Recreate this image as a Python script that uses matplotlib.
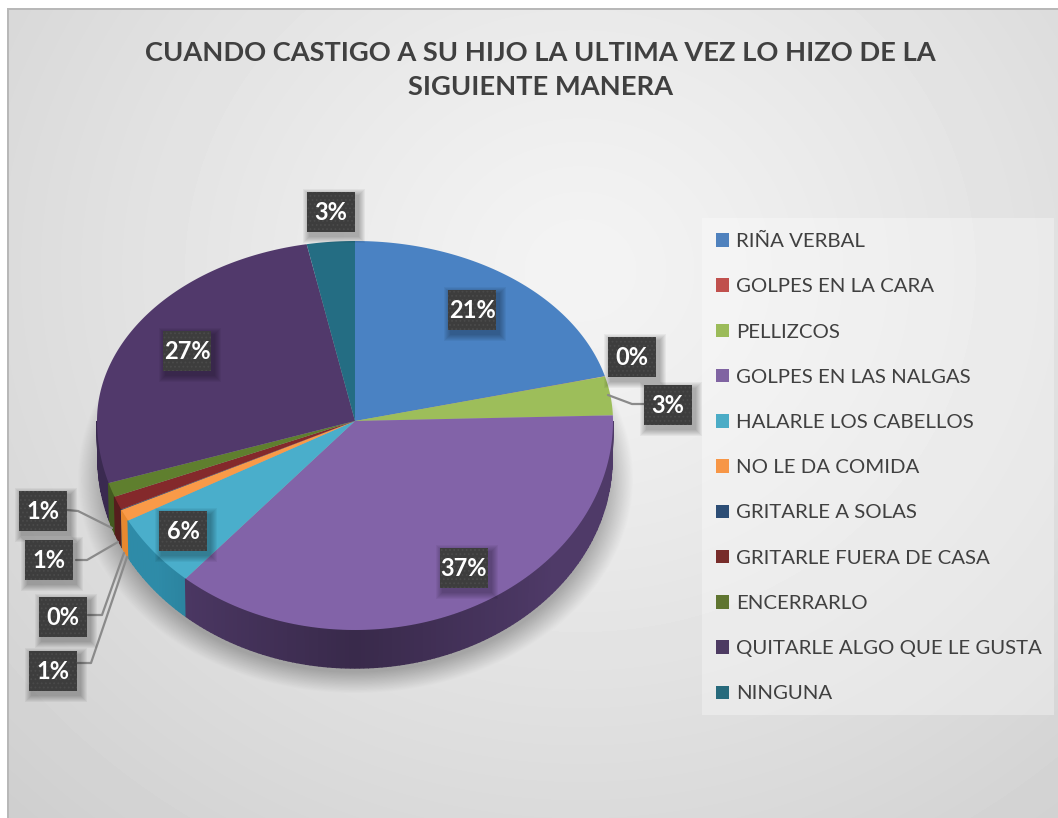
# -*- coding: utf-8 -*-
import numpy as np
import matplotlib
matplotlib.use("Agg")
import matplotlib.pyplot as plt
from matplotlib.patches import Patch, Rectangle

plt.rcParams["font.family"] = ["Lato", "DejaVu Sans"]
plt.rcParams["hatch.linewidth"] = 0.8

TITLE = "CUANDO CASTIGO A SU HIJO LA ULTIMA VEZ LO HIZO DE LA\nSIGUIENTE MANERA"
categories = ["RIÑA VERBAL", "GOLPES EN LA CARA", "PELLIZCOS", "GOLPES EN LAS NALGAS",
              "HALARLE LOS CABELLOS", "NO LE DA COMIDA", "GRITARLE A SOLAS",
              "GRITARLE FUERA DE CASA", "ENCERRARLO", "QUITARLE ALGO QUE LE GUSTA", "NINGUNA"]
values = [21.0, 0.02, 3.48, 36.9, 5.7, 0.9, 0.05, 1.05, 1.1, 26.8, 3.0]

legend_cols = ["#4f81bd", "#c0504d", "#9bbb59", "#8064a2", "#4bacc6", "#f79646",
               "#2c4d75", "#772c2a", "#5f7530", "#4d3b62", "#276a7c"]
face_cols = ["#4a82c3", "#c0504d", "#9dbe5a", "#8263a8", "#4aaecb", "#f99a48",
             "#2c4d75", "#84292b", "#5f7f2e", "#51396b", "#246d83"]
wall_cols = ["#2f5a8c", "#8a3836", "#6f8a3c", "#4f3a68", "#2e8ba8", "#e8882f",
             "#1e3654", "#561d1d", "#435a20", "#3a2a50", "#1b4d5c"]

# label box centres, px
label_x = [472, 632, 668, 464, 183, 53, 63, 49, 43, 187, 331]
label_y = [310, 357, 405, 568, 531, 671, 617, 560, 511, 351, 212]

# leaders: slice index -> polyline
leaders = {2: ([608, 632, 645], [395, 404, 404]),
           8: ([67, 78, 112], [510, 511, 528]),
           7: ([76, 87, 118], [560, 560, 542]),
           6: ([88, 102, 124], [615, 615, 553]),
           5: ([77, 91, 127], [663, 663, 557])}

W, H = 1058, 818
CX, CY = 355, 421
RX, RY_UP, RY_DOWN = 258, 180, 209
DEPTH = 38


def pie_xy(theta_deg, dy=0.0, rx=RX):
    # theta clockwise from 12 o'clock; front half is stretched (perspective)
    t = np.radians(theta_deg)
    s, c = np.sin(t), np.cos(t)
    y = np.where(c > 0, -RY_UP * c, -RY_DOWN * c)
    return CX + rx * s, CY + y + dy


def background():
    yy, xx = np.mgrid[0:H, 0:W]
    r = np.hypot((xx - 580) / 700.0, (yy - 270) / 640.0)
    v = 0.955 - 0.12 * np.clip(r, 0, 1.2) ** 1.2
    # soft shadow below the pie
    d = np.hypot((xx - 355) / 278.0, (yy - 478) / 215.0)
    sh = np.clip((1.0 - d) / 0.1, 0, 1)
    v = v * (1 - 0.27 * sh)
    v[:8, :] = 1.0
    v[:, :7] = 1.0
    v[8:10, 7:] = 0.72
    v[8:, 7:9] = 0.72
    return v


fig = plt.figure(figsize=(W / 100, H / 100), dpi=100)
ax = fig.add_axes([0, 0, 1, 1])
ax.imshow(background(), cmap="gray", vmin=0, vmax=1, extent=(0, W, H, 0), aspect="auto", zorder=0)
ax.set_xlim(0, W); ax.set_ylim(H, 0); ax.axis("off")

# slice angles
edges = np.concatenate([[0], np.cumsum(values)]) / sum(values) * 360.0

# side wall, far ends first, 1 deg strips for the shading
strips = []
for i in range(len(values)):
    a, b = max(edges[i], 90), min(edges[i + 1], 270)
    if b <= a:
        continue
    n = max(int(b - a), 1)
    th = np.linspace(a, b, n + 1)
    for j in range(n):
        strips.append((abs((th[j] + th[j + 1]) / 2 - 180), i, th[j], th[j + 1]))
for dist, i, t0, t1 in sorted(strips, key=lambda s: -s[0]):
    th = np.linspace(t0, t1, 3)
    x0, y0 = pie_xy(th)
    x1, y1 = pie_xy(th[::-1], dy=DEPTH, rx=RX - 1)
    f = 0.72 + 0.28 * min(1.0, dist / 50.0)
    col = np.array(matplotlib.colors.to_rgb(wall_cols[i])) * f
    ax.fill(np.r_[x0, x1], np.r_[y0, y1], color=col, lw=1.0, zorder=2)

# top face
for i in range(len(values)):
    th = np.linspace(edges[i], edges[i + 1], max(int(values[i] * 3.6), 2) + 1)
    x, y = pie_xy(th)
    ax.fill(np.r_[CX, x], np.r_[CY, y], color=face_cols[i], lw=0, zorder=3)

# leader lines
for i, (lx, ly) in leaders.items():
    ax.plot(lx, ly, color="#8a8a8a", lw=1.6, zorder=4, solid_capstyle="round")

# data labels
BW, BH = 48, 40
for i, v in enumerate(values):
    cx, cy = label_x[i], label_y[i]
    for k in np.arange(7, 0, -1):
        ax.add_patch(Rectangle((cx - BW / 2 + 3 - k, cy - BH / 2 + 4 - k), BW + 2 * k, BH + 2 * k,
                               fc="black", ec="none", alpha=0.045, zorder=5))
    ax.add_patch(Rectangle((cx - BW / 2, cy - BH / 2), BW, BH, fc="#3d3d3d", ec="#4a4a4a",
                           hatch="....", lw=0, zorder=6))
    ax.text(cx, cy + 0.5, f"{v:.0f}%", color="white", fontsize=17, fontweight="bold",
            ha="center", va="center", zorder=7)

# legend panel
ax.add_patch(Rectangle((702, 218), 352, 497, fc="white", ec="none", alpha=0.32, zorder=1))
handles = [Patch(fc=c, ec="none") for c in legend_cols]
ax.legend(handles, categories, loc="upper left", bbox_to_anchor=(716 / W, 1 - 233 / H),
          bbox_transform=fig.transFigure, frameon=False, fontsize=14.7, labelcolor="#404040",
          handlelength=0.64, handleheight=0.64, handletextpad=0.36, labelspacing=1.383,
          borderpad=0.0, borderaxespad=0.0)

ax.text(540, 70, TITLE, color="#404040", fontsize=19.6, fontweight="bold", ha="center", va="center",
        linespacing=1.49, zorder=7)

fig.savefig("out.png", dpi=100)
